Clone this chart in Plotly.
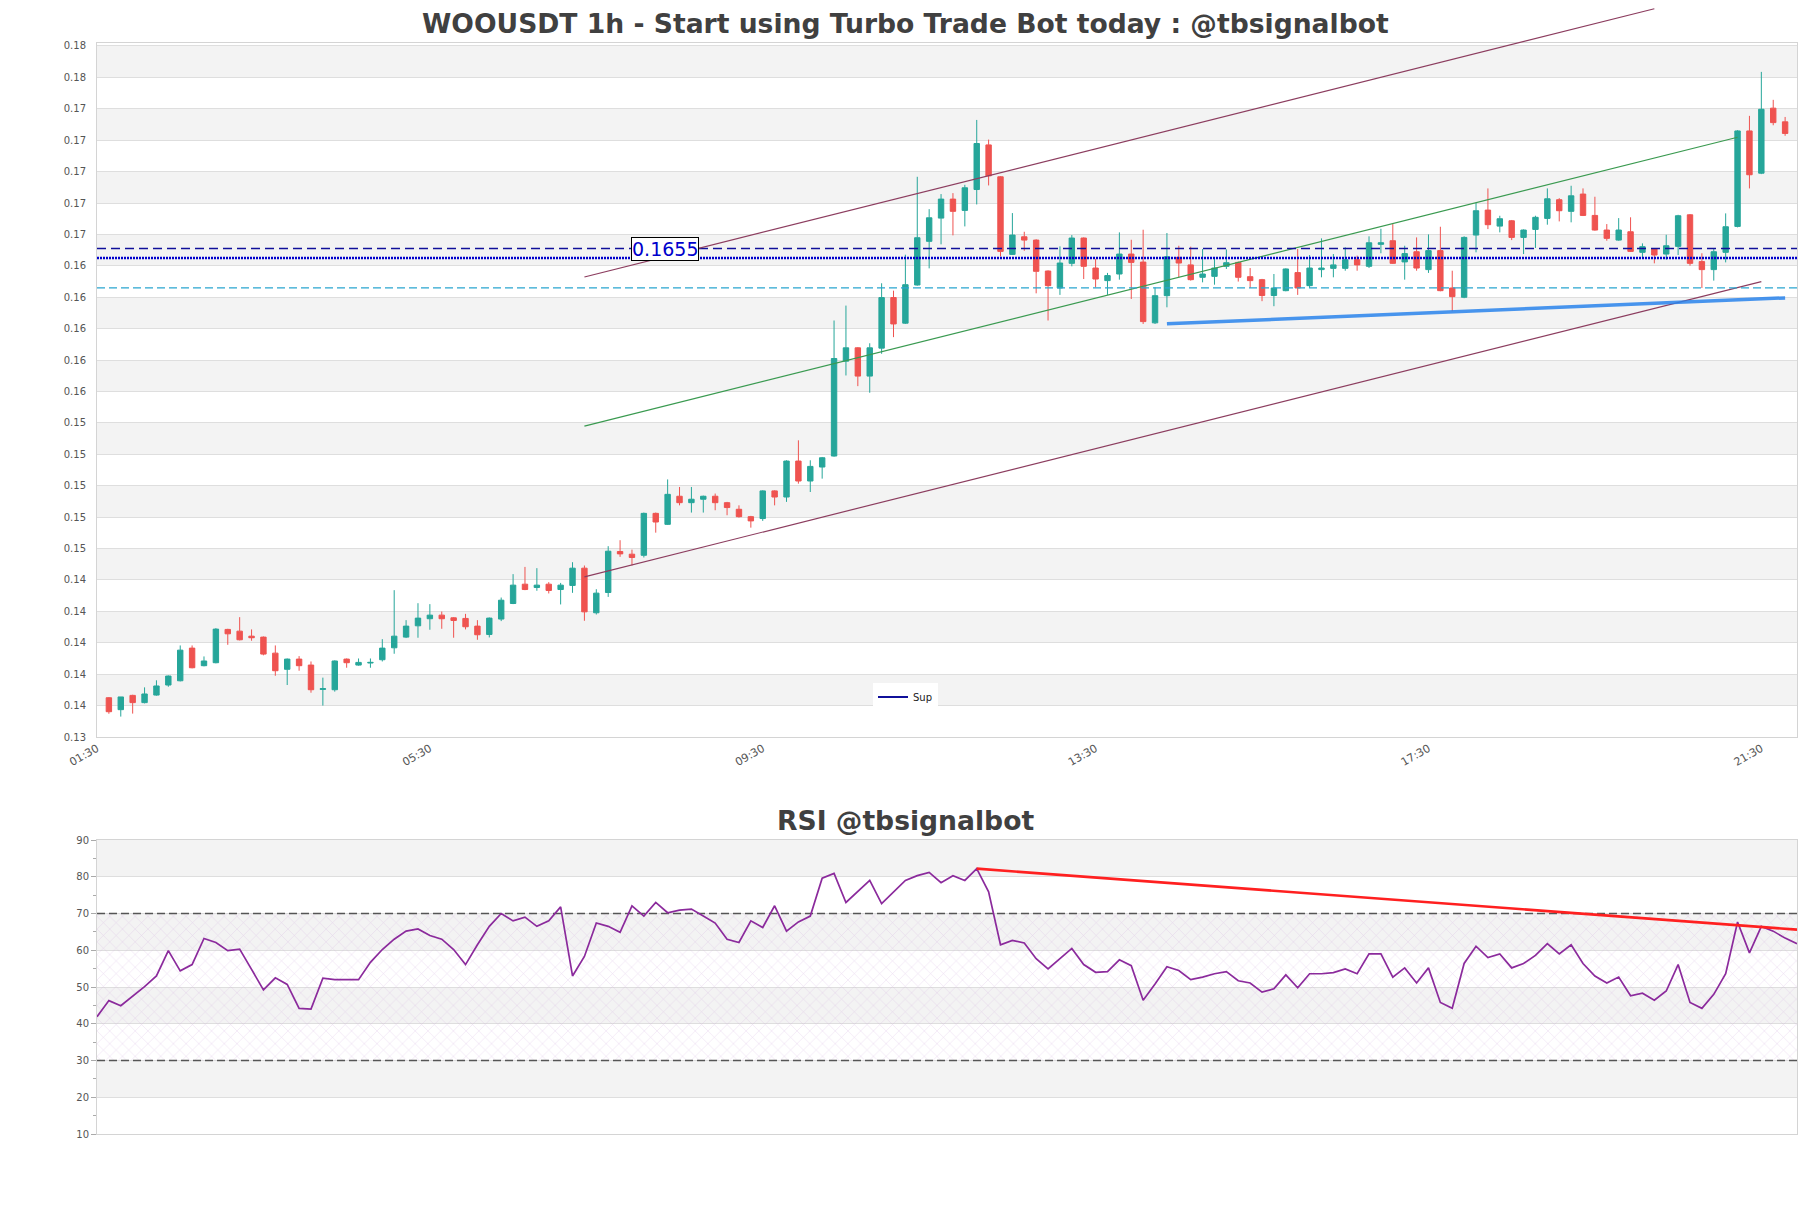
import plotly.graph_objects as go

W, H = 1811, 1208
title_main = "WOOUSDT 1h - Start using Turbo Trade Bot today : @tbsignalbot"
title_rsi = "RSI @tbsignalbot"

opens = [0.13690, 0.13614, 0.13705, 0.13659, 0.13707, 0.13771, 0.13798, 0.14006, 0.13894, 0.13913,
         0.14125, 0.14114, 0.14082, 0.14076, 0.13974, 0.13871, 0.13936, 0.13898, 0.13743, 0.13741,
         0.13936, 0.13898, 0.13911, 0.13932, 0.14008, 0.14076, 0.14148, 0.14193, 0.14216, 0.14199,
         0.14195, 0.14146, 0.14093, 0.14191, 0.14290, 0.14413, 0.14392, 0.14413, 0.14379, 0.14405,
         0.14515, 0.14231, 0.14360, 0.14621, 0.14604, 0.14597, 0.14864, 0.14794, 0.14973, 0.14932,
         0.14954, 0.14973, 0.14932, 0.14890, 0.14843, 0.14831, 0.15007, 0.14968, 0.15197, 0.15070,
         0.15159, 0.15229, 0.15833, 0.15918, 0.15738, 0.15916, 0.16238, 0.16075, 0.16318, 0.16596,
         0.16744, 0.16865, 0.16793, 0.16926, 0.17210, 0.17007, 0.16513, 0.16625, 0.16604, 0.16407,
         0.16299, 0.16456, 0.16617, 0.16426, 0.16346, 0.16388, 0.16515, 0.16464, 0.16077, 0.16250,
         0.16494, 0.16446, 0.16367, 0.16373, 0.16437, 0.16462, 0.16371, 0.16352, 0.16251, 0.16282,
         0.16397, 0.16314, 0.16416, 0.16424, 0.16424, 0.16479, 0.16437, 0.16577, 0.16600, 0.16465,
         0.16530, 0.16416, 0.16537, 0.16299, 0.16240, 0.16636, 0.16795, 0.16693, 0.16727, 0.16621,
         0.16672, 0.16742, 0.16861, 0.16787, 0.16897, 0.16761, 0.16668, 0.16604, 0.16657, 0.16526,
         0.16547, 0.16515, 0.16564, 0.16765, 0.16467, 0.16416, 0.16526, 0.16691, 0.17299, 0.17030,
         0.17444, 0.17357]
highs = [0.13694, 0.13695, 0.13709, 0.13756, 0.13801, 0.13832, 0.14023, 0.14023, 0.13953, 0.14133,
         0.14129, 0.14203, 0.14125, 0.14080, 0.14023, 0.13940, 0.13955, 0.13921, 0.13818, 0.13928,
         0.13940, 0.13940, 0.13940, 0.14063, 0.14375, 0.14184, 0.14292, 0.14286, 0.14239, 0.14203,
         0.14224, 0.14184, 0.14201, 0.14328, 0.14477, 0.14523, 0.14515, 0.14426, 0.14421, 0.14553,
         0.14532, 0.14381, 0.14655, 0.14693, 0.14633, 0.14869, 0.14869, 0.15080, 0.15032, 0.15032,
         0.14977, 0.14990, 0.14937, 0.14915, 0.14848, 0.15011, 0.15011, 0.15202, 0.15329, 0.15202,
         0.15223, 0.16092, 0.16187, 0.15922, 0.15947, 0.16329, 0.16282, 0.16511, 0.17007, 0.16801,
         0.16897, 0.16903, 0.16956, 0.17369, 0.17244, 0.17011, 0.16776, 0.16657, 0.16609, 0.16411,
         0.16564, 0.16636, 0.16621, 0.16484, 0.16395, 0.16653, 0.16606, 0.16670, 0.16303, 0.16649,
         0.16568, 0.16562, 0.16547, 0.16494, 0.16545, 0.16467, 0.16426, 0.16357, 0.16388, 0.16424,
         0.16547, 0.16509, 0.16615, 0.16515, 0.16558, 0.16505, 0.16628, 0.16676, 0.16706, 0.16568,
         0.16621, 0.16640, 0.16689, 0.16409, 0.16628, 0.16840, 0.16933, 0.16759, 0.16732, 0.16672,
         0.16759, 0.16933, 0.16871, 0.16950, 0.16933, 0.16880, 0.16706, 0.16744, 0.16749, 0.16583,
         0.16551, 0.16638, 0.16765, 0.16770, 0.16520, 0.16547, 0.16774, 0.17304, 0.17395, 0.17675,
         0.17497, 0.17388]
lows = [0.13588, 0.13570, 0.13589, 0.13654, 0.13703, 0.13760, 0.13794, 0.13877, 0.13890, 0.13909,
        0.14027, 0.14055, 0.14053, 0.13960, 0.13830, 0.13771, 0.13862, 0.13722, 0.13640, 0.13729,
        0.13881, 0.13894, 0.13881, 0.13921, 0.13970, 0.14070, 0.14072, 0.14123, 0.14129, 0.14072,
        0.14125, 0.14059, 0.14074, 0.14178, 0.14286, 0.14375, 0.14371, 0.14354, 0.14284, 0.14358,
        0.14180, 0.14220, 0.14332, 0.14587, 0.14532, 0.14583, 0.14741, 0.14790, 0.14915, 0.14869,
        0.14869, 0.14884, 0.14852, 0.14837, 0.14773, 0.14816, 0.14915, 0.14937, 0.15053, 0.15000,
        0.15085, 0.15225, 0.15742, 0.15674, 0.15632, 0.15880, 0.15986, 0.16070, 0.16314, 0.16424,
        0.16577, 0.16634, 0.16691, 0.16831, 0.16952, 0.16500, 0.16509, 0.16536, 0.16265, 0.16092,
        0.16255, 0.16437, 0.16356, 0.16303, 0.16255, 0.16352, 0.16229, 0.16070, 0.16070, 0.16176,
        0.16367, 0.16346, 0.16335, 0.16320, 0.16420, 0.16340, 0.16299, 0.16215, 0.16183, 0.16278,
        0.16255, 0.16299, 0.16367, 0.16367, 0.16409, 0.16409, 0.16426, 0.16520, 0.16452, 0.16352,
        0.16409, 0.16395, 0.16278, 0.16151, 0.16234, 0.16526, 0.16674, 0.16653, 0.16604, 0.16515,
        0.16554, 0.16702, 0.16723, 0.16717, 0.16757, 0.16664, 0.16600, 0.16600, 0.16528, 0.16494,
        0.16456, 0.16479, 0.16509, 0.16441, 0.16299, 0.16346, 0.16462, 0.16685, 0.16933, 0.17024,
        0.17335, 0.17268]
closes = [0.13601, 0.13695, 0.13659, 0.13714, 0.13765, 0.13828, 0.13993, 0.13881, 0.13924, 0.14127,
          0.14097, 0.14059, 0.14072, 0.13968, 0.13862, 0.13936, 0.13894, 0.13741, 0.13748, 0.13924,
          0.13913, 0.13915, 0.13915, 0.14006, 0.14082, 0.14146, 0.14197, 0.14216, 0.14193, 0.14182,
          0.14142, 0.14091, 0.14197, 0.14311, 0.14407, 0.14379, 0.14407, 0.14373, 0.14407, 0.14515,
          0.14237, 0.14356, 0.14623, 0.14606, 0.14583, 0.14864, 0.14809, 0.14985, 0.14932, 0.14954,
          0.14973, 0.14932, 0.14901, 0.14843, 0.14816, 0.15007, 0.14968, 0.15197, 0.15070, 0.15163,
          0.15218, 0.15850, 0.15918, 0.15738, 0.15918, 0.16238, 0.16070, 0.16320, 0.16619, 0.16746,
          0.16865, 0.16787, 0.16937, 0.17219, 0.17013, 0.16532, 0.16636, 0.16604, 0.16405, 0.16314,
          0.16458, 0.16617, 0.16437, 0.16356, 0.16378, 0.16515, 0.16462, 0.16085, 0.16250, 0.16498,
          0.16458, 0.16352, 0.16388, 0.16426, 0.16460, 0.16367, 0.16346, 0.16251, 0.16299, 0.16420,
          0.16299, 0.16426, 0.16426, 0.16446, 0.16479, 0.16446, 0.16587, 0.16587, 0.16456, 0.16518,
          0.16426, 0.16537, 0.16282, 0.16244, 0.16621, 0.16791, 0.16702, 0.16740, 0.16621, 0.16668,
          0.16749, 0.16867, 0.16791, 0.16886, 0.16761, 0.16668, 0.16615, 0.16668, 0.16532, 0.16562,
          0.16509, 0.16568, 0.16759, 0.16456, 0.16416, 0.16530, 0.16689, 0.17299, 0.17020, 0.17437,
          0.17352, 0.17283]
candle_idx = list(range(len(opens)))

tick_pos = [-1, 27, 55, 83, 111, 139]
tick_labels = ["01:30", "05:30", "09:30", "13:30", "17:30", "21:30"]

rsi = [41.9, 46.3, 44.9, 47.5, 50.1, 53.0, 59.9, 54.4, 56.1, 63.2,
       62.1, 59.9, 60.3, 54.8, 49.2, 52.5, 50.7, 44.2, 44.0, 52.4,
       52.0, 52.0, 52.0, 56.7, 60.2, 63.0, 65.2, 65.8, 64.0, 63.0,
       60.2, 56.1, 61.5, 66.5, 70.0, 68.0, 69.0, 66.5, 68.0, 71.8,
       53.0, 58.3, 67.4, 66.5, 64.9, 72.1, 69.3, 73.0, 70.2, 70.9,
       71.2, 69.3, 67.4, 63.0, 62.1, 68.0, 66.2, 72.1, 65.2, 67.7,
       69.3, 79.6, 80.9, 73.0, 75.9, 79.0, 72.7, 75.9, 79.0, 80.3,
       81.2, 78.4, 80.3, 79.0, 82.2, 75.9, 61.5, 62.7, 62.0, 57.7,
       54.9, 57.7, 60.5, 56.1, 54.0, 54.2, 57.4, 55.8, 46.4, 50.8,
       55.5, 54.5, 52.0, 52.7, 53.6, 54.2, 51.7, 51.1, 48.6, 49.5,
       53.3, 49.8, 53.6, 53.6, 53.9, 54.9, 53.6, 59.0, 59.0, 52.7,
       55.2, 51.1, 55.2, 45.8, 44.2, 56.4, 61.1, 58.0, 59.0, 55.2,
       56.4, 58.6, 61.8, 59.0, 61.5, 56.4, 53.0, 51.1, 52.7, 47.6,
       48.3, 46.4, 48.9, 56.1, 45.8, 44.2, 48.0, 53.6, 67.7, 59.3,
       66.5, 65.2, 63.3, 61.8]
rsi_x = list(range(len(rsi)))

level_sup = 0.1655
level_dot = 0.1649
level_cyan = 0.1630
rsi_upper, rsi_lower = 70, 30

upper_x, upper_y = [40, 130], [0.16369, 0.18077]
mid_x, mid_y = [40, 137], [0.15419, 0.17259]
lower_x, lower_y = [40, 139], [0.14460, 0.16340]
sup_x, sup_y = [89, 141], [0.16071, 0.16236]
rsi_tr_x, rsi_tr_y = [74, 143], [82.2, 65.6]

# ---- layout geometry ----
XR = [-1, 142]
YR = [0.1344, 0.17857]
XDOM = [97 / W, 1797 / W]
YDOM = [(H - 737) / H, (H - 43.3) / H]
XR2 = [0, len(rsi) - 1]
YR2 = [10, 90]
YDOM2 = [(H - 1134) / H, (H - 840) / H]
TICK0, DTICK = 0.1344, 0.002

GREEN, RED = "#26a69a", "#ef5350"
FONT = "DejaVu Sans"


def to_paper_x(v):
    return XDOM[0] + (v - XR[0]) / (XR[1] - XR[0]) * (XDOM[1] - XDOM[0])


def to_paper_y(v):
    return YDOM[0] + (v - YR[0]) / (YR[1] - YR[0]) * (YDOM[1] - YDOM[0])


fig = go.Figure()

fig.add_trace(go.Candlestick(
    x=candle_idx, open=opens, high=highs, low=lows, close=closes,
    increasing=dict(line=dict(color=GREEN, width=1), fillcolor=GREEN),
    decreasing=dict(line=dict(color=RED, width=1), fillcolor=RED),
    whiskerwidth=0, showlegend=False, xaxis="x", yaxis="y", hoverinfo="skip"))

# channel / trend lines inside the plot
fig.add_trace(go.Scatter(x=mid_x, y=mid_y, mode="lines", line=dict(color="#3a9a50", width=1.2),
                         showlegend=False, xaxis="x", yaxis="y", hoverinfo="skip"))
fig.add_trace(go.Scatter(x=lower_x, y=lower_y, mode="lines", line=dict(color="#8c3d5f", width=1.2),
                         showlegend=False, xaxis="x", yaxis="y", hoverinfo="skip"))
fig.add_trace(go.Scatter(x=sup_x, y=sup_y, mode="lines", line=dict(color="rgba(40,130,235,0.85)", width=3.5),
                         showlegend=False, xaxis="x", yaxis="y", hoverinfo="skip"))

# horizontal levels
fig.add_trace(go.Scatter(x=XR, y=[level_cyan, level_cyan], mode="lines",
                         line=dict(color="#2aa5cf", width=1.4, dash="8px,4px"),
                         showlegend=False, xaxis="x", yaxis="y", hoverinfo="skip"))
fig.add_trace(go.Scatter(x=XR, y=[level_dot, level_dot], mode="lines",
                         line=dict(color="#0000cc", width=2.6, dash="2px,1px"),
                         showlegend=False, xaxis="x", yaxis="y", hoverinfo="skip"))
fig.add_trace(go.Scatter(x=XR, y=[level_sup, level_sup], mode="lines",
                         line=dict(color="#10109a", width=1.5, dash="9px,5px"),
                         showlegend=False, xaxis="x", yaxis="y", hoverinfo="skip"))
fig.add_trace(go.Scatter(x=[None], y=[None], mode="lines", name="Sup",
                         line=dict(color="#10109a", width=2), showlegend=True,
                         xaxis="x", yaxis="y"))

# RSI hatch zone
fig.add_trace(go.Scatter(x=XR2, y=[rsi_lower, rsi_lower], mode="lines", line=dict(width=0, color="rgba(0,0,0,0)"),
                         showlegend=False, xaxis="x2", yaxis="y2", hoverinfo="skip"))
fig.add_trace(go.Scatter(x=XR2, y=[rsi_upper, rsi_upper], mode="lines", line=dict(width=0, color="rgba(0,0,0,0)"),
                         fill="tonexty", fillcolor="rgba(0,0,0,0)",
                         fillpattern=dict(shape="x", fgcolor="rgba(200,160,215,0.75)", size=9, solidity=0.12),
                         showlegend=False, xaxis="x2", yaxis="y2", hoverinfo="skip"))
for lv in (rsi_upper, rsi_lower):
    fig.add_trace(go.Scatter(x=XR2, y=[lv, lv], mode="lines",
                             line=dict(color="#555555", width=1.3, dash="8px,4px"),
                             showlegend=False, xaxis="x2", yaxis="y2", hoverinfo="skip"))
fig.add_trace(go.Scatter(x=rsi_x, y=rsi, mode="lines", line=dict(color="#8b2a9c", width=1.7),
                         showlegend=False, xaxis="x2", yaxis="y2", hoverinfo="skip"))
fig.add_trace(go.Scatter(x=rsi_tr_x, y=rsi_tr_y, mode="lines", line=dict(color="#ff2020", width=2.6),
                         showlegend=False, xaxis="x2", yaxis="y2", hoverinfo="skip"))

shapes = []
# alternating bands, top chart
k = 1
while TICK0 + DTICK * (k + 1) <= YR[1] + 1e-9:
    shapes.append(dict(type="rect", xref="x", yref="y", x0=XR[0], x1=XR[1],
                       y0=TICK0 + DTICK * k, y1=TICK0 + DTICK * (k + 1),
                       fillcolor="#f3f3f3", line=dict(width=0), layer="below"))
    k += 2
# alternating bands, RSI
for lo in (20, 40, 60, 80):
    shapes.append(dict(type="rect", xref="x2", yref="y2", x0=XR2[0], x1=XR2[1], y0=lo, y1=lo + 10,
                       fillcolor="#f3f3f3", line=dict(width=0), layer="below"))
# upper channel line, which runs past the top of the plot
shapes.append(dict(type="line", xref="paper", yref="paper",
                   x0=to_paper_x(upper_x[0]), y0=to_paper_y(upper_y[0]),
                   x1=to_paper_x(upper_x[1]), y1=to_paper_y(upper_y[1]),
                   line=dict(color="#8c3d5f", width=1.2), layer="above"))

annotations = [
    dict(text=f"<b>{title_main}</b>", x=0.5, y=(H - 23) / H, xref="paper", yref="paper",
         showarrow=False, font=dict(family=FONT, size=26.6, color="#404040"), xanchor="center", yanchor="middle"),
    dict(text=f"<b>{title_rsi}</b>", x=0.5, y=(H - 820) / H, xref="paper", yref="paper",
         showarrow=False, font=dict(family=FONT, size=26.6, color="#404040"), xanchor="center", yanchor="middle"),
    dict(text=f"{level_sup:.4f}", x=46.8, y=level_sup, xref="x", yref="y", showarrow=False,
         font=dict(family=FONT, size=19, color="#0000cc"), bgcolor="white", bordercolor="black",
         borderwidth=1, borderpad=0, xanchor="center", yanchor="middle"),
]

axis_common = dict(showline=True, mirror=True, linecolor="#d4d4d4", linewidth=1, zeroline=False,
                   automargin=False)

fig.update_layout(
    width=W, height=H, autosize=False,
    margin=dict(l=0, r=0, t=0, b=0, autoexpand=False),
    paper_bgcolor="white", plot_bgcolor="white",
    font=dict(family=FONT, color="#555555", size=10),
    boxgap=0.35,
    shapes=shapes, annotations=annotations,
    showlegend=True,
    legend=dict(x=0.5, y=(H - 697) / H, xanchor="center", yanchor="middle",
                bgcolor="white", borderwidth=0, font=dict(family=FONT, size=10, color="#222"),
                itemwidth=30, orientation="h"),
    xaxis=dict(domain=XDOM, range=XR, anchor="y", tickmode="array", tickvals=tick_pos, ticktext=tick_labels,
               tickangle=-30, tickfont=dict(size=11, color="#555"), showgrid=False, ticks="",
               rangeslider=dict(visible=False), **axis_common),
    yaxis=dict(domain=YDOM, range=YR, anchor="x", tickmode="linear", tick0=TICK0, dtick=DTICK,
               tickformat=".2f", tickfont=dict(size=10, color="#555"), showgrid=True, gridcolor="#dedede",
               ticks="", ticklabelstandoff=8, **axis_common),
    xaxis2=dict(domain=XDOM, range=XR2, anchor="y2", showticklabels=False, showgrid=False, ticks="",
                **axis_common),
    yaxis2=dict(domain=YDOM2, range=YR2, anchor="x2", tickmode="array", tickvals=list(range(10, 91, 10)),
                tickfont=dict(size=10, color="#555"), showgrid=True, gridcolor="#dedede",
                ticks="outside", ticklen=5, tickcolor="#aaaaaa",
                minor=dict(dtick=5, tick0=5, ticks="outside", ticklen=3, tickcolor="#aaaaaa", showgrid=False),
                **axis_common),
)

fig.write_html("out.html")
